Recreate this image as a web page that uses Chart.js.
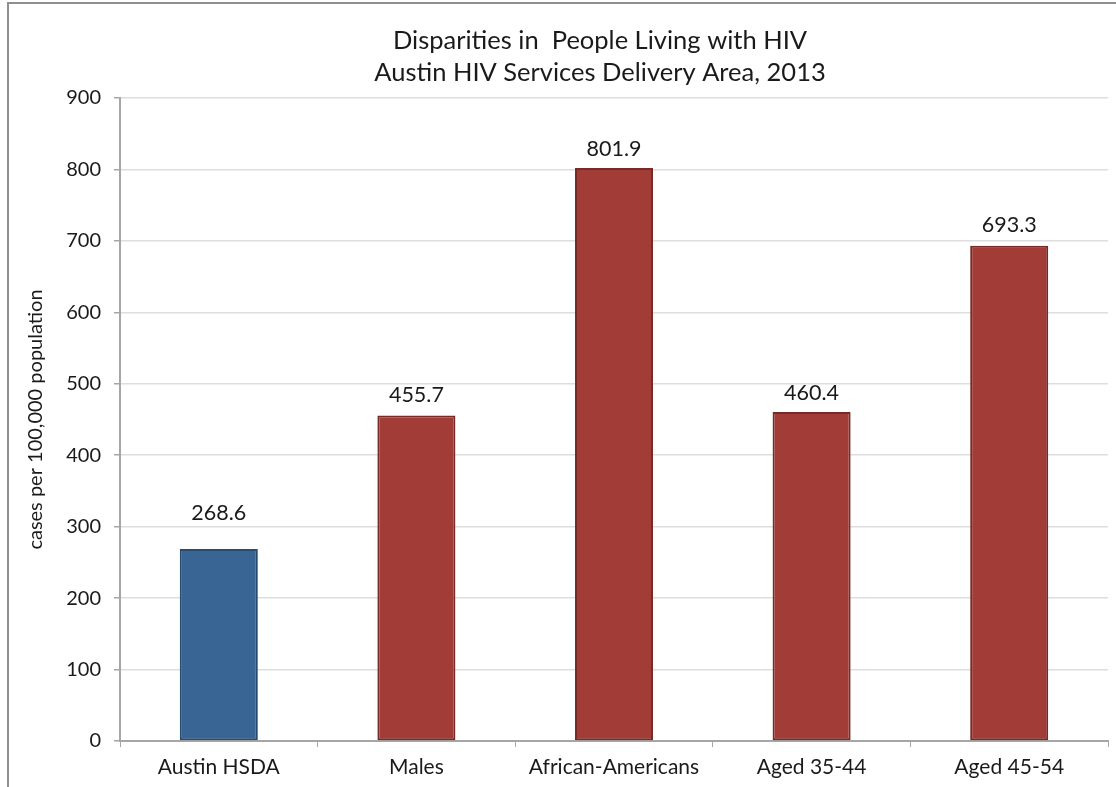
<!DOCTYPE html>
<html>
<head>
<meta charset="utf-8">
<title>Disparities in People Living with HIV</title>
<script src="https://cdn.jsdelivr.net/npm/chart.js@4/dist/chart.umd.min.js"></script>
<style>
    html, body { margin: 0; padding: 0; background: #fff; overflow: hidden; }
    #wrap { position: relative; width: 1116px; height: 787px; }
    #frame {
        position: absolute; left: 7px; top: 2px; right: 0; bottom: 0;
        border-left: 2px solid #8f8f8f; border-top: 2px solid #8f8f8f;
        pointer-events: none;
    }
    canvas { position: absolute; left: 0; top: 0; }
</style>
</head>
<body>
<div id="wrap">
    <canvas id="hivChart" width="1116" height="787"></canvas>
    <div id="frame"></div>
</div>
<script>
// Chart values
const groups = ['Austin HSDA', 'Males', 'African-Americans', 'Aged 35-44', 'Aged 45-54'];
const rates = [268.6, 455.7, 801.9, 460.4, 693.3];
const yTicks = [0, 100, 200, 300, 400, 500, 600, 700, 800, 900];
const titleLines = ['Disparities in  People Living with HIV', 'Austin HIV Services Delivery Area, 2013'];

// Styling
const fillColors = ['#386594', '#a23c37', '#a23c37', '#a23c37', '#a23c37'];
const edgeColors = ['#284b70', '#782a26', '#782a26', '#782a26', '#782a26'];
const labelLift = [36, 20, 19, 19, 21]; // px above bar top for value labels
const fontFamily = 'Lato, "Open Sans", sans-serif';

// Two-line title centred where the original sits
const titlePlugin = {
    id: 'titleLines',
    afterDraw(chart) {
        const ctx = chart.ctx;
        ctx.save();
        ctx.font = '25.5px ' + fontFamily;
        ctx.fillStyle = '#1a1a1a';
        ctx.textAlign = 'center';
        ctx.textBaseline = 'middle';
        ctx.fillText(titleLines[0], 600, 41);
        ctx.fillText(titleLines[1], 600, 73);
        ctx.restore();
    }
};

// Value labels over each bar
const valueLabels = {
    id: 'valueLabels',
    afterDatasetsDraw(chart) {
        const ctx = chart.ctx;
        const meta = chart.getDatasetMeta(0);
        ctx.save();
        ctx.font = '21.5px ' + fontFamily;
        ctx.fillStyle = '#1a1a1a';
        ctx.textAlign = 'center';
        ctx.textBaseline = 'middle';
        meta.data.forEach((bar, i) => {
            ctx.fillText(rates[i].toFixed(1), bar.x, bar.y - labelLift[i]);
        });
        ctx.restore();
    }
};

new Chart(document.getElementById('hivChart').getContext('2d'), {
    type: 'bar',
    data: {
        labels: groups,
        datasets: [{
            data: rates,
            backgroundColor: fillColors,
            borderColor: edgeColors,
            borderWidth: 2,
            borderSkipped: false,
            categoryPercentage: 1,
            barPercentage: 0.395
        }]
    },
    options: {
        responsive: false,
        animation: false,
        events: [],
        layout: { padding: { left: 10, right: 8, top: 98, bottom: 0 } },
        plugins: {
            legend: { display: false },
            title: { display: false },
            tooltip: { enabled: false }
        },
        scales: {
            x: {
                offset: true,
                afterFit(scale) { scale.height = 46; },
                grid: {
                    offset: true,
                    drawOnChartArea: false,
                    tickLength: 6,
                    color: '#a6a6a6'
                },
                border: { color: '#a6a6a6', width: 2 },
                ticks: {
                    color: '#1a1a1a',
                    padding: 8,
                    font: { family: fontFamily, size: 21 }
                }
            },
            y: {
                min: 0,
                max: 900,
                afterFit(scale) { scale.width = 110; },
                afterBuildTicks(scale) { scale.ticks = yTicks.map(v => ({ value: v })); },
                grid: {
                    color: '#dedede',
                    lineWidth: 1.5,
                    tickLength: 6,
                    tickColor: '#a6a6a6'
                },
                border: { color: '#a6a6a6', width: 2 },
                ticks: {
                    color: '#1a1a1a',
                    padding: 13,
                    font: { family: fontFamily, size: 20 }
                },
                title: {
                    display: true,
                    text: 'cases per 100,000 population',
                    color: '#1a1a1a',
                    padding: { top: 14, bottom: 0 },
                    font: { family: fontFamily, size: 20 }
                }
            }
        }
    },
    plugins: [titlePlugin, valueLabels]
});
</script>
</body>
</html>
